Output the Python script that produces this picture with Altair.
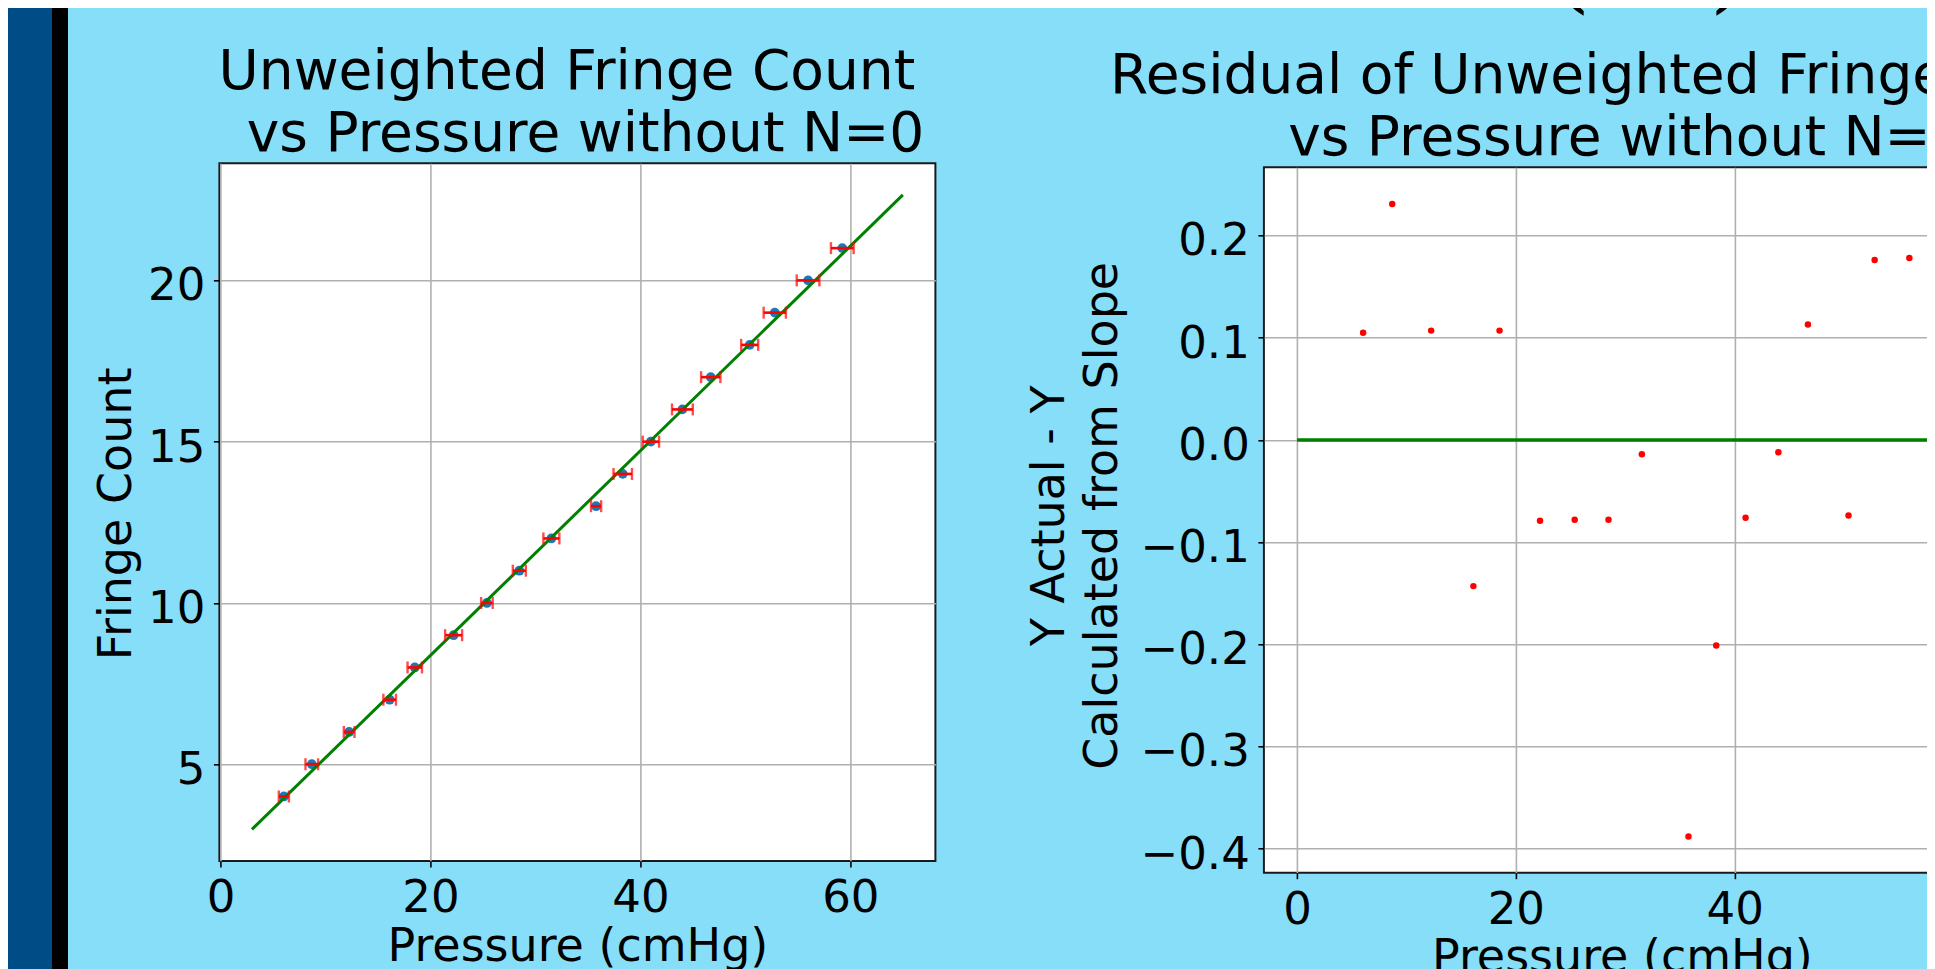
import altair as alt
import pandas as pd

# ---------------- data ----------------
pressure = [6.04, 8.70, 12.26, 16.12, 18.51, 22.21, 25.38, 28.47, 31.52,
            35.78, 38.32, 41.00, 44.00, 46.70, 50.41, 52.80, 55.97, 59.23]
fringe = [4, 5, 6, 7, 8, 9, 10, 11, 12, 13, 14, 15, 16, 17, 18, 19, 20, 21]
pressure_err = [0.48, 0.60, 0.51, 0.60, 0.69, 0.81, 0.55, 0.62, 0.76,
                0.48, 0.88, 0.78, 0.99, 0.92, 0.81, 1.06, 1.08, 1.08]
residual = [0.105, 0.231, 0.107, -0.143, 0.107, -0.079, -0.078, -0.078, -0.014,
            -0.388, -0.201, -0.076, -0.012, 0.113, -0.074, 0.176, 0.178]
fit_x = [3.0, 65.0]
fit_y = [2.98, 22.65]
zero_x = [0.0, 60.6]
zero_y = [0.0, 0.0]

x_ticks = [0, 20, 40, 60]
y_ticks_left = [5, 10, 15, 20]
y_ticks_right = [-0.4, -0.3, -0.2, -0.1, 0.0, 0.1, 0.2]

left_title = ["Unweighted Fringe Count", "vs Pressure without N=0"]
right_title = ["Residual of Unweighted Fringe Count", "vs Pressure without N=0"]
x_title = "Pressure (cmHg)"
left_y_title = "Fringe Count"
right_y_title = ["Y Actual - Y" + "\u00a0" * 5, "Calculated from Slope"]
banner_a = "an inaccurate index: 1.000213 \u00b1 9.0\u00d710\u207b\u2075"
banner_b = "(stat) \u00b1 1.0\u00d710\u207b\u2074"

# ---------------- style / layout ----------------
FONT = "DejaVu Sans"
SLIDE_BG = "#86DEF9"
STRIP_BLUE = "#004C86"
PAGE_W, PAGE_H = 1919, 961
L_X0, L_Y0 = 211.4, 155.3
PLOT_W = 716
L_H = 697.7
R_H = 705.4
GAP = 328.5
SP_X0 = L_X0 + PLOT_W + GAP   # origin of the spacer view (svg px)

left_df = pd.DataFrame({"P": pressure, "N": fringe, "err": pressure_err})
left_df["lo"] = left_df["P"] - left_df["err"]
left_df["hi"] = left_df["P"] + left_df["err"]
fit_df = pd.DataFrame({"x": fit_x, "y": fit_y})
right_df = pd.DataFrame({"P": pressure[:len(residual)], "R": residual})
zero_df = pd.DataFrame({"x": zero_x, "y": zero_y})
one = pd.DataFrame({"k": [0]})

xl = alt.Scale(domain=[-0.1, 68.1], nice=False, zero=False)
yl = alt.Scale(domain=[2.0, 23.63], nice=False, zero=False)
xr = alt.Scale(domain=[-3.03, 62.42], nice=False, zero=False)
yr = alt.Scale(domain=[-0.4234, 0.2668], nice=False, zero=False)


def title_line(text, x, y):
    return alt.Chart(one).mark_text(
        text=text, font=FONT, fontSize=55, color="black",
        align="center", baseline="alphabetic").encode(
        x=alt.value(x), y=alt.value(y))


# ---------------- left panel ----------------
base_l = alt.Chart(left_df)
pts = base_l.mark_circle(size=95, color="#1f77b4", opacity=1).encode(
    x=alt.X("P:Q", scale=xl,
            axis=alt.Axis(values=x_ticks, title=x_title, titleY=99)),
    y=alt.Y("N:Q", scale=yl,
            axis=alt.Axis(values=y_ticks_left, title=left_y_title,
                          titleX=-89.4, titleY=350)),
)
fit = alt.Chart(fit_df).mark_line(color="#008000", strokeWidth=3).encode(
    x=alt.X("x:Q", scale=xl, title=x_title), y=alt.Y("y:Q", scale=yl, title=left_y_title))
bars = base_l.mark_rule(color="red", strokeWidth=2.6).encode(
    x=alt.X("lo:Q", scale=xl, title=x_title), x2="hi:Q",
    y=alt.Y("N:Q", scale=yl, title=left_y_title))
cap_lo = base_l.mark_tick(color="red", orient="vertical", size=12, thickness=2.4).encode(
    x=alt.X("lo:Q", scale=xl, title=x_title), y=alt.Y("N:Q", scale=yl, title=left_y_title))
cap_hi = base_l.mark_tick(color="red", orient="vertical", size=12, thickness=2.4).encode(
    x=alt.X("hi:Q", scale=xl, title=x_title), y=alt.Y("N:Q", scale=yl, title=left_y_title))

left = alt.layer(
    pts, fit, bars, cap_lo, cap_hi,
    title_line(left_title[0], PLOT_W / 2 - 10.5, -74),
    title_line(left_title[1], PLOT_W / 2 + 8.1, -12),
).properties(width=PLOT_W, height=L_H)

# ---------------- right panel ----------------
zero = alt.Chart(zero_df).mark_line(color="#008000", strokeWidth=3.5).encode(
    x=alt.X("x:Q", scale=xr, title=x_title), y=alt.Y("y:Q", scale=yr, title=right_y_title))
rpts = alt.Chart(right_df).mark_circle(size=42, color="red", opacity=1).encode(
    x=alt.X("P:Q", scale=xr,
            axis=alt.Axis(values=x_ticks, title=x_title, titleY=99)),
    y=alt.Y("R:Q", scale=yr,
            axis=alt.Axis(values=y_ticks_right, format=".1f", title=right_y_title,
                          titleBaseline="middle", titleLineHeight=53,
                          titleX=-214.7, titleY=348)),
)
right = alt.layer(
    zero, rpts,
    title_line(right_title[0], PLOT_W / 2 - 3.4, -74),
    title_line(right_title[1], PLOT_W / 2 + 5.0, -12),
).properties(width=PLOT_W, height=R_H)

# ---------------- slide decorations (in an empty spacer view) ----------------
strip_blue = alt.Chart(one).mark_rect(color=STRIP_BLUE).encode(
    x=alt.value(-SP_X0), x2=alt.value(-SP_X0 + 44),
    y=alt.value(-L_Y0), y2=alt.value(PAGE_H - L_Y0))
strip_black = alt.Chart(one).mark_rect(color="black").encode(
    x=alt.value(-SP_X0 + 44), x2=alt.value(-SP_X0 + 60),
    y=alt.value(-L_Y0), y2=alt.value(PAGE_H - L_Y0))
ban_a = alt.Chart(one).mark_text(
    text=banner_a, font="Liberation Serif", fontSize=82, fontWeight="bold",
    align="right", baseline="alphabetic", color="black").encode(
    x=alt.value(274.5), y=alt.value(-L_Y0 - 10))
ban_b = alt.Chart(one).mark_text(
    text=banner_b, font="Liberation Serif", fontSize=82, fontWeight="bold",
    align="left", baseline="alphabetic", color="black").encode(
    x=alt.value(295.0), y=alt.value(-L_Y0 - 10))

spacer = alt.layer(strip_blue, strip_black, ban_a, ban_b).properties(
    width=PLOT_W, height=4,
    view=alt.ViewBackground(stroke="transparent", fill="transparent"))

right_block = alt.vconcat(spacer, right, spacing=0, bounds="flush")

chart = alt.hconcat(left, right_block, spacing=GAP, bounds="flush").properties(
    autosize=alt.AutoSizeParams(type="none"),
    padding={"left": L_X0, "top": L_Y0, "right": PAGE_W - L_X0, "bottom": PAGE_H - L_Y0},
    background=SLIDE_BG,
).configure_view(
    stroke="#1a1a1a", strokeWidth=2, fill="white"
).configure_axis(
    labelFont=FONT, labelFontSize=45, labelColor="black",
    titleFont=FONT, titleFontSize=46, titleFontWeight="normal", titleColor="black",
    tickColor="black", tickSize=6, tickWidth=1.6,
    gridColor="#b0b0b0", gridWidth=1.6, gridOpacity=1,
    domain=False, labelPadding=8.6, labelFlush=False, labelOverlap=False,
    titleBaseline="alphabetic", titlePadding=0,
).configure_axisY(
    labelOffset=5.4
)

chart.save("out.html", embed_options={"renderer": "svg", "actions": False})
